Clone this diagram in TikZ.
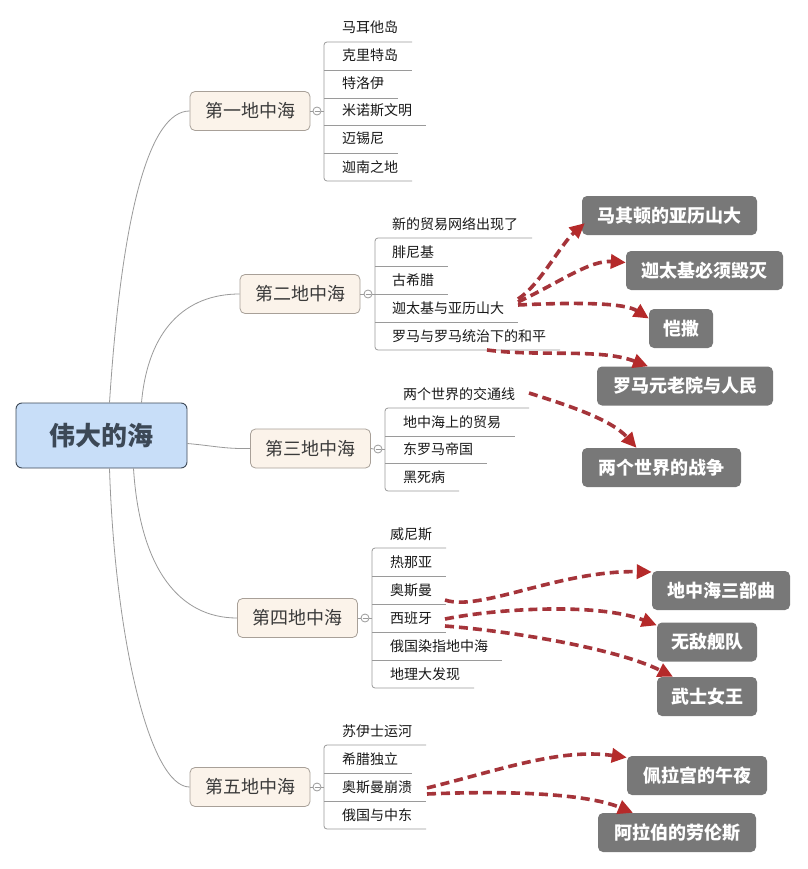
\documentclass[tikz,border=0pt]{standalone}
\usepackage{fontspec}
\newfontfamily\cjk{Noto Sans CJK SC}
\usetikzlibrary{arrows.meta}
\definecolor{rootfill}{HTML}{C8DEF8}
\definecolor{rootdraw}{HTML}{3E4A58}
\definecolor{roottext}{HTML}{3C4856}
\definecolor{brfill}{HTML}{FBF3EA}
\definecolor{brdraw}{HTML}{A8A098}
\definecolor{brtext}{HTML}{3A3A3A}
\definecolor{linec}{HTML}{9A9A9A}
\definecolor{gfill}{HTML}{787878}
\definecolor{relc}{HTML}{A5343A}
\definecolor{headc}{HTML}{B52A2A}
\tikzset{
  rootbox/.style={draw=rootdraw, line width=0.9pt, fill=rootfill, rounded corners=6pt,
    minimum width=171pt, minimum height=65pt, inner sep=0pt, text=roottext,
    font=\cjk\bfseries\fontsize{26}{26}\selectfont},
  branch/.style={draw=brdraw, line width=0.8pt, fill=brfill, rounded corners=5pt,
    minimum width=120pt, minimum height=39pt, inner sep=0pt, text=brtext,
    font=\cjk\fontsize{18}{18}\selectfont},
  leaf/.style={anchor=base west, inner sep=0pt, outer sep=0pt, text height=11pt,
    text depth=9pt, font=\cjk\fontsize{14}{14}\selectfont, text=black!90},
  gnode/.style={fill=gfill, rounded corners=5pt, minimum height=39pt, inner sep=0pt,
    text=white, font=\cjk\bfseries\fontsize{18}{18}\selectfont},
  conn/.style={draw=linec, line width=0.8pt},
  knob/.style={circle, draw=linec, line width=0.8pt, fill=white, minimum size=8pt, inner sep=0pt},
  rel/.style={draw=relc, line width=3.6pt, dash pattern=on 9pt off 5pt,
    -{Triangle[length=15pt,width=14pt,fill=headc,color=headc]}},
}
\begin{document}
\begin{tikzpicture}[x=1pt,y=-1pt]
\fill[white] (0,0) rectangle (807,869);
\useasboundingbox (0,0) rectangle (807,869);

% root and branches
\node[rootbox] (root) at (101.5,435.5) {伟大的海};
\node[branch] (b1) at (250,111) {第一地中海};
\node[branch] (b2) at (300,294) {第二地中海};
\node[branch] (b3) at (310.5,448.5) {第三地中海};
\node[branch] (b4) at (297.5,618) {第四地中海};
\node[branch] (b5) at (250,787) {第五地中海};

\draw[conn] ([xshift=8pt]root.north) .. controls (122,210) and (150,111) .. (b1.west);
\draw[conn] ([xshift=40pt]root.north) .. controls (148,330) and (185,294) .. (b2.west);
\draw[conn] ([yshift=-8pt]root.east) .. controls (215,446) and (225,449) .. (b3.west);
\draw[conn] ([xshift=32pt]root.south) .. controls (140,570) and (180,618) .. (b4.west);
\draw[conn] ([xshift=8pt]root.south) .. controls (115,640) and (150,787) .. (b5.west);

% bracket x positions
\coordinate (br1) at (324,0);
\coordinate (br2) at (375,0);
\coordinate (br3) at (385,0);
\coordinate (br4) at (372,0);
\coordinate (br5) at (324,0);

% group 1
\node[leaf] (c11) at (342,33) {马耳他岛};
\node[leaf] (c12) at (342,61) {克里特岛};
\node[leaf] (c13) at (342,89) {特洛伊};
\node[leaf] (c14) at (342,116) {米诺斯文明};
\node[leaf] (c15) at (342,144) {迈锡尼};
\node[leaf] (c16) at (342,172) {迦南之地};
\node[knob] (k1) at (317,111) {};
\draw[conn] (b1.east) -- (k1.west);
\draw[conn] (k1.east) -- (k1 -| br1);
\draw[linec, line width=0.7pt] ([xshift=-2.5pt]k1.center) -- ([xshift=2.5pt]k1.center);
\draw[conn, rounded corners=3pt] ([xshift=14pt]c11.south east) -- (c11.south -| br1) -- (c16.south -| br1) -- ([xshift=14pt]c16.south east);
\foreach \c in {c12,c13,c14,c15} \draw[conn] (\c.south -| br1) -- ([xshift=14pt]\c.south east);

% group 2
\node[leaf] (c21) at (392,229) {新的贸易网络出现了};
\node[leaf] (c22) at (392,257) {腓尼基};
\node[leaf] (c23) at (392,285) {古希腊};
\node[leaf] (c24) at (392,313) {迦太基与亚历山大};
\node[leaf] (c25) at (392,341) {罗马与罗马统治下的和平};
\node[knob] (k2) at (368,294) {};
\draw[conn] (b2.east) -- (k2.west);
\draw[conn] (k2.east) -- (k2 -| br2);
\draw[linec, line width=0.7pt] ([xshift=-2.5pt]k2.center) -- ([xshift=2.5pt]k2.center);
\draw[conn, rounded corners=3pt] ([xshift=14pt]c21.south east) -- (c21.south -| br2) -- (c25.south -| br2) -- ([xshift=14pt]c25.south east);
\foreach \c in {c22,c23,c24} \draw[conn] (\c.south -| br2) -- ([xshift=14pt]\c.south east);

% group 3
\node[leaf] (c31) at (403,399) {两个世界的交通线};
\node[leaf] (c32) at (403,427) {地中海上的贸易};
\node[leaf] (c33) at (403,454) {东罗马帝国};
\node[leaf] (c34) at (403,482) {黑死病};
\node[knob] (k3) at (378,449) {};
\draw[conn] (b3.east) -- (k3.west);
\draw[conn] (k3.east) -- (k3 -| br3);
\draw[linec, line width=0.7pt] ([xshift=-2.5pt]k3.center) -- ([xshift=2.5pt]k3.center);
\draw[conn, rounded corners=3pt] ([xshift=14pt]c31.south east) -- (c31.south -| br3) -- (c34.south -| br3) -- ([xshift=14pt]c34.south east);
\foreach \c in {c32,c33} \draw[conn] (\c.south -| br3) -- ([xshift=14pt]\c.south east);

% group 4
\node[leaf] (c41) at (390,539) {威尼斯};
\node[leaf] (c42) at (390,567) {热那亚};
\node[leaf] (c43) at (390,595) {奥斯曼};
\node[leaf] (c44) at (390,623) {西班牙};
\node[leaf] (c45) at (390,651) {俄国染指地中海};
\node[leaf] (c46) at (390,679) {地理大发现};
\node[knob] (k4) at (365,618) {};
\draw[conn] (b4.east) -- (k4.west);
\draw[conn] (k4.east) -- (k4 -| br4);
\draw[linec, line width=0.7pt] ([xshift=-2.5pt]k4.center) -- ([xshift=2.5pt]k4.center);
\draw[conn, rounded corners=3pt] ([xshift=14pt]c41.south east) -- (c41.south -| br4) -- (c46.south -| br4) -- ([xshift=14pt]c46.south east);
\foreach \c in {c42,c43,c44,c45} \draw[conn] (\c.south -| br4) -- ([xshift=14pt]\c.south east);

% group 5
\node[leaf] (c51) at (342,736) {苏伊士运河};
\node[leaf] (c52) at (342,764) {希腊独立};
\node[leaf] (c53) at (342,792) {奥斯曼崩溃};
\node[leaf] (c54) at (342,820) {俄国与中东};
\node[knob] (k5) at (317,787) {};
\draw[conn] (b5.east) -- (k5.west);
\draw[conn] (k5.east) -- (k5 -| br5);
\draw[linec, line width=0.7pt] ([xshift=-2.5pt]k5.center) -- ([xshift=2.5pt]k5.center);
\draw[conn, rounded corners=3pt] ([xshift=14pt]c51.south east) -- (c51.south -| br5) -- (c54.south -| br5) -- ([xshift=14pt]c54.south east);
\foreach \c in {c52,c53} \draw[conn] (\c.south -| br5) -- ([xshift=14pt]\c.south east);

% gray nodes
\node[gnode, minimum width=175pt] (g1) at (669.5,215.5) {马其顿的亚历山大};
\node[gnode, minimum width=157pt] (g2) at (704.5,270.5) {迦太基必须毁灭};
\node[gnode, minimum width=64pt] (g3) at (681,328.5) {恺撒};
\node[gnode, minimum width=176pt] (g4) at (685,386) {罗马元老院与人民};
\node[gnode, minimum width=159pt] (g5) at (661.5,467.5) {两个世界的战争};
\node[gnode, minimum width=138pt] (g6) at (721,590.5) {地中海三部曲};
\node[gnode, minimum width=100pt] (g7) at (707,642) {无敌舰队};
\node[gnode, minimum width=100pt] (g8) at (707,696.5) {武士女王};
\node[gnode, minimum width=140pt] (g9) at (697,775.5) {佩拉宫的午夜};
\node[gnode, minimum width=158pt] (g10) at (677,832.5) {阿拉伯的劳伦斯};

% relationships
\draw[rel] ([xshift=14pt,yshift=13pt]c24.east) .. controls (540,285) and (560,245) .. ([xshift=3pt,yshift=12pt]g1.south west);
\draw[rel] ([xshift=14pt,yshift=10pt]c24.east) .. controls (560,282) and (590,260) .. ([yshift=8pt]g2.west);
\draw[rel] ([xshift=14pt,yshift=7pt]c24.east) .. controls (580,302) and (625,303) .. ([yshift=10pt]g3.west);
\draw[rel] ([xshift=18pt]c25.south) .. controls (540,357) and (600,348) .. ([xshift=-37pt]g4.north);
\draw[rel] ([xshift=14pt,yshift=5pt]c31.east) .. controls (560,403) and (610,418) .. ([xshift=-25pt]g5.north);
\draw[rel] ([xshift=13pt,yshift=-6pt]c43.east) .. controls (480,612) and (560,570) .. ([yshift=18.5pt]g6.west);
\draw[rel] ([xshift=13pt,yshift=3pt]c44.east) .. controls (500,608) and (600,603) .. ([yshift=-3pt]g7.north west);
\draw[rel] ([xshift=13pt,yshift=-4pt]c44.east) .. controls (520,632) and (620,650) .. ([xshift=-34pt]g8.north);
\draw[rel] ([xshift=15pt,yshift=3pt]c53.east) .. controls (500,770) and (560,748) .. ([yshift=18pt]g9.west);
\draw[rel] ([xshift=15pt,yshift=-3pt]c53.east) .. controls (520,790) and (590,795) .. ([xshift=-44pt]g10.north);
\end{tikzpicture}
\end{document}
